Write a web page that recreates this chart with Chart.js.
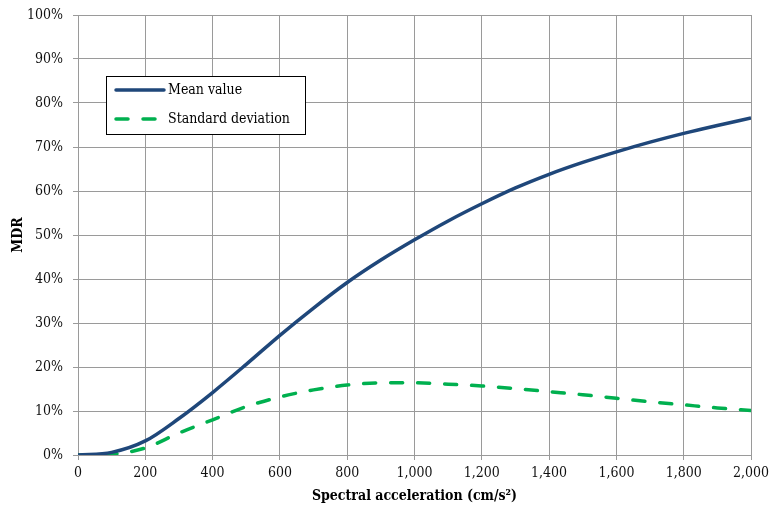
<!DOCTYPE html>
<html>
<head>
<meta charset="utf-8">
<script src="https://cdn.jsdelivr.net/npm/chart.js@4/dist/chart.umd.min.js"></script>
<style>
  html, body { margin: 0; padding: 0; background: #fff; }
  #wrap { width: 773px; height: 511px; position: relative; }
</style>
</head>
<body>
<div id="wrap"><canvas id="c" width="773" height="511"></canvas></div>
<script>
// Spectral acceleration (cm/s²)
const accel = [0, 100, 200, 300, 400, 500, 600, 700, 800, 900, 1000,
               1100, 1200, 1300, 1400, 1500, 1600, 1700, 1800, 1900, 2000];
// Mean damage ratio (%)
const meanMDR = [0, 0.6, 3.2, 8.3, 14.2, 20.6, 27.2, 33.4, 39.2, 44.3, 48.9,
                 53.2, 57.1, 60.7, 63.8, 66.5, 68.9, 71.1, 73.1, 74.9, 76.6];
// Standard deviation of damage ratio (%)
const stdMDR = [0, 0.2, 1.6, 5.0, 8.0, 11.0, 13.2, 14.8, 15.9, 16.4, 16.4,
                16.1, 15.7, 15.1, 14.4, 13.7, 12.9, 12.1, 11.4, 10.7, 10.1];

const seriesNames = ['Mean value', 'Standard deviation'];
const FONT = '"DejaVu Serif Condensed", "DejaVu Serif", serif';

const toPoints = (ys) => accel.map((x, i) => ({ x, y: ys[i] }));

// Boxed legend drawn inside the plot area
const boxLegend = {
  id: 'boxLegend',
  afterDraw(chart) {
    const ctx = chart.ctx;
    const x0 = 106, y0 = 76, w = 199, h = 58;
    ctx.save();
    ctx.fillStyle = '#fff';
    ctx.fillRect(x0, y0, w, h);
    ctx.strokeStyle = '#000';
    ctx.lineWidth = 1;
    ctx.strokeRect(x0 + 0.5, y0 + 0.5, w, h);
    ctx.font = '14px ' + FONT;
    ctx.textBaseline = 'middle';
    chart.data.datasets.forEach((ds, i) => {
      const y = y0 + 14 + i * 29;
      ctx.beginPath();
      ctx.strokeStyle = ds.borderColor;
      ctx.lineWidth = ds.borderWidth;
      ctx.lineCap = 'round';
      ctx.setLineDash(ds.borderDash || []);
      ctx.moveTo(116, y);
      ctx.lineTo(164, y);
      ctx.stroke();
      ctx.setLineDash([]);
      ctx.fillStyle = '#000';
      ctx.fillText(ds.label, 168, y);
    });
    ctx.restore();
  }
};

new Chart(document.getElementById('c'), {
  type: 'line',
  data: {
    datasets: [
      {
        label: seriesNames[0],
        data: toPoints(meanMDR),
        borderColor: '#1f477a',
        borderWidth: 3.5,
        pointRadius: 0,
        cubicInterpolationMode: 'monotone',
        fill: false
      },
      {
        label: seriesNames[1],
        data: toPoints(stdMDR),
        borderColor: '#00b04f',
        borderWidth: 3.5,
        borderDash: [12, 15],
        borderCapStyle: 'round',
        pointRadius: 0,
        cubicInterpolationMode: 'monotone',
        fill: false
      }
    ]
  },
  options: {
    responsive: false,
    animation: false,
    events: [],
    layout: { padding: { top: 15, right: 22, left: 0, bottom: 0 } },
    plugins: { legend: { display: false }, tooltip: { enabled: false } },
    scales: {
      x: {
        type: 'linear',
        min: 0, max: 2000,
        ticks: { stepSize: 200, color: '#111', font: { family: FONT, size: 14 }, padding: 5 },
        grid: { color: '#9a9a9a', lineWidth: 1, tickLength: 5, tickColor: '#9a9a9a' },
        border: { color: '#9a9a9a', width: 1 },
        title: {
          display: true,
          text: 'Spectral acceleration (cm/s²)',
          color: '#000',
          font: { family: FONT, size: 14, weight: 'bold' },
          padding: { top: 0, bottom: 6 }
        },
        afterFit(scale) {
          scale.height = 56;
          scale.paddingLeft = 0;
          scale.paddingRight = 0;
        }
      },
      y: {
        min: 0, max: 100,
        ticks: {
          stepSize: 10, color: '#111', font: { family: FONT, size: 14 }, padding: 10,
          callback: (v) => v + '%'
        },
        grid: { color: '#9a9a9a', lineWidth: 1, tickLength: 5, tickColor: '#9a9a9a' },
        border: { color: '#9a9a9a', width: 1 },
        title: {
          display: true,
          text: 'MDR',
          color: '#000',
          font: { family: FONT, size: 14, weight: 'bold' },
          padding: { top: 10, bottom: 2 }
        },
        afterFit(scale) {
          scale.width = 78;
          scale.paddingTop = 0;
          scale.paddingBottom = 0;
        }
      }
    }
  },
  plugins: [boxLegend]
});
</script>
</body>
</html>
